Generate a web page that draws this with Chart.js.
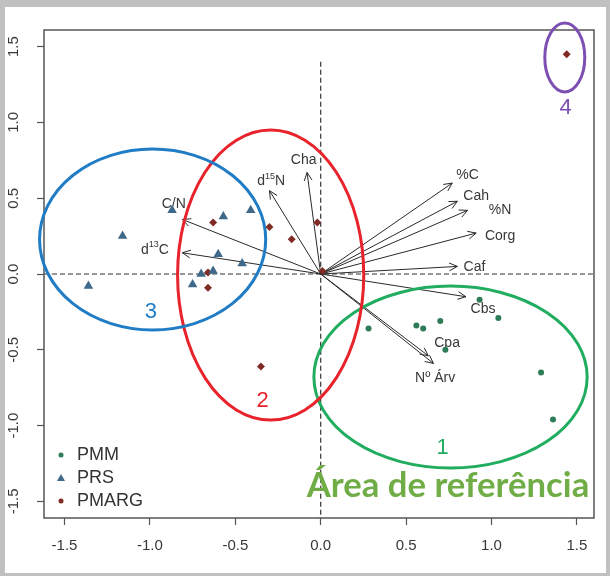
<!DOCTYPE html>
<html>
<head>
<meta charset="utf-8">
<script src="https://cdn.jsdelivr.net/npm/chart.js@4.4.1/dist/chart.umd.min.js"></script>
<style>
  html, body { margin: 0; padding: 0; background: #fff; }
</style>
</head>
<body>
<canvas id="pca" width="610" height="576"></canvas>
<script>
// tick labels
var xTicks = [-1.5, -1.0, -0.5, 0.0, 0.5, 1.0, 1.5];
var yTicks = [-1.5, -1.0, -0.5, 0.0, 0.5, 1.0, 1.5];

// site scores
var pmmX = [0.28, 0.56, 0.60, 0.70, 0.73, 0.93, 1.04, 1.29, 1.36];
var pmmY = [-0.36, -0.34, -0.36, -0.31, -0.50, -0.17, -0.29, -0.65, -0.96];
var prsX = [-0.87, -1.16, -1.36, -0.57, -0.41, -0.60, -0.46, -0.70, -0.63, -0.75];
var prsY = [0.42, 0.25, -0.08, 0.38, 0.42, 0.13, 0.07, 0.00, 0.02, -0.07];
var pmargX = [-0.63, -0.30, -0.17, -0.02, -0.66, -0.66, -0.35, 0.01, 1.44];
var pmargY = [0.34, 0.31, 0.23, 0.34, 0.01, -0.09, -0.61, 0.02, 1.45];

// variable loadings (arrows); {..} = superscript
var varNames = ['Cha', 'd{15}N', 'C/N', 'd{13}C', '%C', 'Cah', '%N', 'Corg', 'Caf', 'Cbs', 'Cpa', 'Nº Árv'];
var varX = [-0.08, -0.30, -0.81, -0.81, 0.77, 0.80, 0.86, 0.91, 0.80, 0.85, 0.63, 0.66];
var varY = [0.67, 0.55, 0.36, 0.14, 0.60, 0.48, 0.42, 0.27, 0.05, -0.15, -0.54, -0.59];
var labX = [-0.10, -0.29, -0.86, -0.97, 0.86, 0.91, 1.05, 1.05, 0.90, 0.95, 0.74, 0.67];
var labY = [0.75, 0.61, 0.46, 0.16, 0.65, 0.515, 0.42, 0.25, 0.046, -0.23, -0.455, -0.69];

// groups drawn on top (ellipses + numbers)
var groups = [
  { cx: 0.76, cy: -0.68, rx: 0.80, ry: 0.60, color: '#21ad5f', num: '1', nx: 0.714, ny: -1.15 },
  { cx: -0.293, cy: -0.007, rx: 0.545, ry: 0.957, color: '#e8232b', num: '2', nx: -0.34, ny: -0.84 },
  { cx: -0.984, cy: 0.228, rx: 0.662, ry: 0.597, color: '#1f7cc5', num: '3', nx: -0.995, ny: -0.25 },
  { cx: 1.429, cy: 1.429, rx: 0.117, ry: 0.228, color: '#7d4fb2', num: '4', nx: 1.434, ny: 1.095 }
];

function pts(xs, ys) {
  return xs.map(function (x, i) { return { x: x, y: ys[i] }; });
}

var colPMM = '#2e7b57', colPRS = '#3f698a', colPMARG = '#7e2c25';
var ink = '#383838';

function drawLabel(ctx, text, x, y) {
  // split "d{15}N" into base / superscript parts, centred on x,y
  var parts = text.split(/(\{[^}]*\})/).filter(function (p) { return p.length; });
  var big = '14px "Liberation Sans", Arial, sans-serif';
  var small = '9px "Liberation Sans", Arial, sans-serif';
  var w = 0;
  parts.forEach(function (p) {
    ctx.font = p[0] === '{' ? small : big;
    w += ctx.measureText(p.replace(/[{}]/g, '')).width;
  });
  var cx = x - w / 2;
  ctx.textAlign = 'left';
  ctx.textBaseline = 'middle';
  parts.forEach(function (p) {
    var sup = p[0] === '{';
    var t = p.replace(/[{}]/g, '');
    ctx.font = sup ? small : big;
    ctx.fillText(t, cx, sup ? y - 5 : y);
    cx += ctx.measureText(t).width;
  });
}

var biplot = {
  id: 'biplot',
  beforeDraw: function (chart) {
    var ctx = chart.ctx;
    ctx.save();
    ctx.fillStyle = '#c0c0c0';
    ctx.fillRect(0, 0, chart.width, chart.height);
    ctx.fillStyle = '#ffffff';
    ctx.fillRect(5, 7, chart.width - 9, chart.height - 10);
    ctx.restore();
  },
  beforeDatasetsDraw: function (chart) {
    var ctx = chart.ctx, xs = chart.scales.x, ys = chart.scales.y, a = chart.chartArea;
    var x0 = xs.getPixelForValue(0), y0 = ys.getPixelForValue(0);
    ctx.save();
    // dashed reference lines
    ctx.strokeStyle = '#333';
    ctx.lineWidth = 1.2;
    ctx.setLineDash([5, 3]);
    ctx.beginPath();
    ctx.moveTo(a.left, y0); ctx.lineTo(a.right, y0);
    ctx.moveTo(x0, ys.getPixelForValue(1.40)); ctx.lineTo(x0, a.bottom);
    ctx.stroke();
    ctx.setLineDash([]);
    // loading arrows
    ctx.strokeStyle = '#2a2a2a';
    ctx.lineWidth = 1;
    for (var i = 0; i < varNames.length; i++) {
      var tx = xs.getPixelForValue(varX[i]), ty = ys.getPixelForValue(varY[i]);
      var ang = Math.atan2(ty - y0, tx - x0), h = 9, sp = 0.45;
      ctx.beginPath();
      ctx.moveTo(x0, y0); ctx.lineTo(tx, ty);
      ctx.moveTo(tx - h * Math.cos(ang - sp), ty - h * Math.sin(ang - sp));
      ctx.lineTo(tx, ty);
      ctx.lineTo(tx - h * Math.cos(ang + sp), ty - h * Math.sin(ang + sp));
      ctx.stroke();
      ctx.fillStyle = ink;
      drawLabel(ctx, varNames[i], xs.getPixelForValue(labX[i]), ys.getPixelForValue(labY[i]));
    }
    ctx.restore();
  },
  afterDatasetsDraw: function (chart) {
    var ctx = chart.ctx, xs = chart.scales.x, ys = chart.scales.y, a = chart.chartArea;
    ctx.save();
    // plot box
    ctx.strokeStyle = '#555';
    ctx.lineWidth = 1.5;
    ctx.strokeRect(a.left, a.top, a.right - a.left, a.bottom - a.top);

    // rotated y tick labels (R style)
    ctx.fillStyle = ink;
    ctx.font = '15px "Liberation Sans", Arial, sans-serif';
    ctx.textAlign = 'center';
    ctx.textBaseline = 'middle';
    yTicks.forEach(function (v) {
      ctx.save();
      ctx.translate(14, ys.getPixelForValue(v));
      ctx.rotate(-Math.PI / 2);
      ctx.fillText(v.toFixed(1), 0, 0);
      ctx.restore();
    });

    // legend
    var lx = a.left + 17, ly = [a.bottom - 63, a.bottom - 40, a.bottom - 17];
    ctx.fillStyle = colPMM;
    ctx.beginPath(); ctx.arc(lx, ly[0], 2.5, 0, Math.PI * 2); ctx.fill();
    ctx.fillStyle = colPRS;
    ctx.beginPath(); ctx.moveTo(lx, ly[1] - 4); ctx.lineTo(lx + 4, ly[1] + 3); ctx.lineTo(lx - 4, ly[1] + 3); ctx.closePath(); ctx.fill();
    ctx.fillStyle = colPMARG;
    ctx.beginPath(); ctx.arc(lx, ly[2], 2.5, 0, Math.PI * 2); ctx.fill();
    ctx.fillStyle = '#333';
    ctx.font = '18px "Liberation Sans", Arial, sans-serif';
    ctx.textAlign = 'left';
    ['PMM', 'PRS', 'PMARG'].forEach(function (t, k) { ctx.fillText(t, lx + 16, ly[k]); });

    // group ellipses and numbers
    groups.forEach(function (g) {
      var cx = xs.getPixelForValue(g.cx), cy = ys.getPixelForValue(g.cy);
      var rx = Math.abs(xs.getPixelForValue(g.cx + g.rx) - cx);
      var ry = Math.abs(ys.getPixelForValue(g.cy + g.ry) - cy);
      ctx.strokeStyle = g.color;
      ctx.lineWidth = 3;
      ctx.beginPath();
      ctx.ellipse(cx, cy, rx, ry, 0, 0, Math.PI * 2);
      ctx.stroke();
      ctx.fillStyle = g.color;
      ctx.font = '22px "Liberation Sans", Arial, sans-serif';
      ctx.textAlign = 'center';
      ctx.textBaseline = 'middle';
      ctx.fillText(g.num, xs.getPixelForValue(g.nx), ys.getPixelForValue(g.ny));
    });

    // reference area caption, fitted to its width in the original
    var caption = 'Área de referência';
    var left = xs.getPixelForValue(-0.082), right = xs.getPixelForValue(1.575);
    ctx.font = 'bold 30px Lato, "Open Sans", sans-serif';
    var size = 30 * (right - left) / ctx.measureText(caption).width;
    ctx.font = 'bold ' + size.toFixed(1) + 'px Lato, "Open Sans", sans-serif';
    ctx.fillStyle = '#70ad47';
    ctx.textAlign = 'left';
    ctx.textBaseline = 'alphabetic';
    ctx.fillText(caption, left, ys.getPixelForValue(-1.472));
    ctx.restore();
  }
};

new Chart(document.getElementById('pca'), {
  type: 'scatter',
  data: {
    datasets: [
      { label: 'PMM', data: pts(pmmX, pmmY), pointStyle: 'circle', radius: 3, backgroundColor: colPMM, borderWidth: 0 },
      { label: 'PRS', data: pts(prsX, prsY), pointStyle: 'triangle', radius: 5.5, backgroundColor: colPRS, borderWidth: 0 },
      { label: 'PMARG', data: pts(pmargX, pmargY), pointStyle: 'rectRot', radius: 4, backgroundColor: colPMARG, borderWidth: 0 }
    ]
  },
  options: {
    responsive: false,
    animation: false,
    layout: { padding: { top: 30, right: 16, left: 0, bottom: 0 } },
    plugins: { legend: { display: false }, tooltip: { enabled: false } },
    scales: {
      x: {
        type: 'linear', min: -1.62, max: 1.60,
        afterBuildTicks: function (s) { s.ticks = xTicks.map(function (v) { return { value: v }; }); },
        afterFit: function (s) { s.height = 58; },
        grid: { drawOnChartArea: false, drawTicks: true, tickLength: 7, tickColor: '#555', tickWidth: 1.2 },
        border: { display: false },
        ticks: {
          padding: 12, color: ink,
          font: { family: '"Liberation Sans", Arial, sans-serif', size: 15 },
          callback: function (v) { return Number(v).toFixed(1); }
        }
      },
      y: {
        type: 'linear', min: -1.61, max: 1.61,
        afterBuildTicks: function (s) { s.ticks = yTicks.map(function (v) { return { value: v }; }); },
        afterFit: function (s) { s.width = 44; },
        grid: { drawOnChartArea: false, drawTicks: true, tickLength: 7, tickColor: '#555', tickWidth: 1.2 },
        border: { display: false },
        ticks: { display: false }
      }
    }
  },
  plugins: [biplot]
});
</script>
</body>
</html>
